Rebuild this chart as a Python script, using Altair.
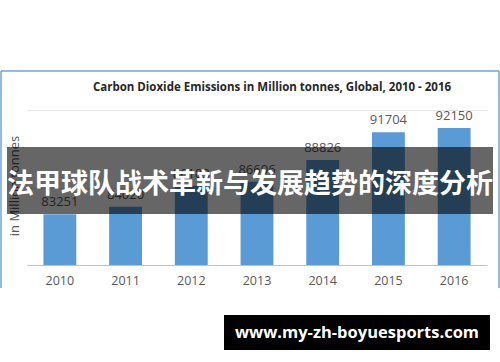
import altair as alt
import pandas as pd

years = ["2010", "2011", "2012", "2013", "2014", "2015", "2016"]
emissions = [83251, 84020, 86183, 86606, 88826, 91704, 92150]
y_ticks = [78000, 80000, 82000, 84000, 86000, 88000, 90000, 92000, 94000]

title_text = "Carbon Dioxide Emissions in Million tonnes, Global, 2010 - 2016"
y_title = "in Million tonnes"
banner_text = "法甲球队战术革新与发展趋势的深度分析"
watermark_text = "www.my-zh-boyuesports.com"

df = pd.DataFrame({"year": years, "value": emissions})
one = alt.Data(values=[{"k": 1}])

FONT = "Open Sans"

x_enc = alt.X("year:N", sort=years, title=None,
              scale=alt.Scale(paddingInner=0.5, paddingOuter=0.25),
              axis=alt.Axis(labelAngle=0, labelColor="#595959", labelFontSize=12.5,
                            labelFont=FONT, ticks=False, domainColor="#a8c6e6",
                            domainWidth=1.2, labelPadding=9, grid=False))
y_enc = alt.Y("value:Q", title=None,
              scale=alt.Scale(domain=[78000, 94000], nice=False, zero=False),
              axis=alt.Axis(values=y_ticks, labels=False, ticks=False, domain=False,
                            grid=True, gridColor="#e6e6e6", gridWidth=1))

bars = alt.Chart(df).mark_bar(color="#5b9bd5", clip=True).encode(x=x_enc, y=y_enc)
labels = alt.Chart(df).mark_text(baseline="bottom", dy=-5, fontSize=13, font=FONT,
                                 color="#595959").encode(
    x=alt.X("year:N", sort=years), y="value:Q", text=alt.Text("value:Q", format="d"))

BORDER = "#6fa3d8"
border_left = alt.Chart(one).mark_rule(color=BORDER, strokeWidth=1.5).encode(
    x=alt.value(-26), y=alt.value(-39), y2=alt.value(178))
border_right = alt.Chart(one).mark_rule(color=BORDER, strokeWidth=1.5).encode(
    x=alt.value(472), y=alt.value(-39), y2=alt.value(178))
border_top = alt.Chart(one).mark_rule(color=BORDER, strokeWidth=1.5).encode(
    x=alt.value(-26), x2=alt.value(472), y=alt.value(-39))

title = alt.Chart(one).mark_text(fontSize=11.5, fontWeight="bold", font=FONT,
                                 color="#262626").encode(
    x=alt.value(245), y=alt.value(-22), text=alt.value(title_text))
ytitle = alt.Chart(one).mark_text(fontSize=13, font=FONT, color="#595959", angle=270).encode(
    x=alt.value(-12), y=alt.value(76), text=alt.value(y_title))

banner = alt.Chart(one).mark_rect(color="black", opacity=0.6).encode(
    x=alt.value(-20), x2=alt.value(466), y=alt.value(37), y2=alt.value(104))
banner_t = alt.Chart(one).mark_text(fontSize=27, fontWeight="bold", font="Noto Sans CJK SC",
                                    color="white").encode(
    x=alt.value(223), y=alt.value(75), text=alt.value(banner_text))

wm = alt.Chart(one).mark_rect(color="black").encode(
    x=alt.value(197), x2=alt.value(463), y=alt.value(205), y2=alt.value(240))
wm_t = alt.Chart(one).mark_text(fontSize=16.5, fontWeight="bold", font=FONT,
                                color="white").encode(
    x=alt.value(330), y=alt.value(223), text=alt.value(watermark_text))

chart = alt.layer(border_left, border_right, border_top, bars, labels, title, ytitle,
                  banner, banner_t, wm, wm_t).properties(
    width=460, height=155,
    autosize=alt.AutoSizeParams(type="none"),
    padding={"left": 27, "top": 110, "right": 13, "bottom": 97},
    background="white",
).configure_view(stroke=None)

chart.save("out.html", embed_options={"renderer": "svg", "actions": False})
